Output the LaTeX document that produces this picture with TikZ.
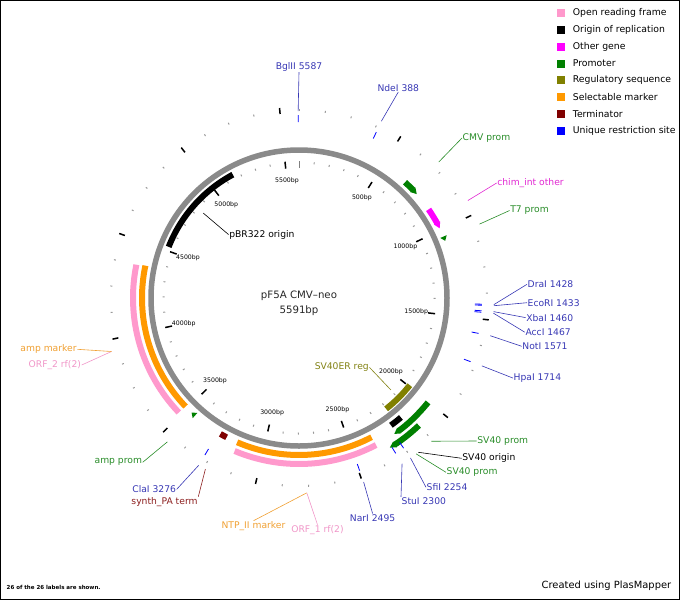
\documentclass[tikz,border=0pt]{standalone}
\usepackage{fontspec}
\setmainfont{DejaVu Sans}
\usetikzlibrary{arrows.meta}

% feature colours
\definecolor{orfcol}{RGB}{255,153,204}
\definecolor{genecol}{RGB}{255,0,255}
\definecolor{promcol}{RGB}{0,128,0}
\definecolor{regcol}{RGB}{128,128,0}
\definecolor{markcol}{RGB}{255,153,0}
\definecolor{termcol}{RGB}{128,0,0}
\definecolor{sitecol}{RGB}{0,0,255}
\definecolor{ringcol}{RGB}{138,138,138}
% label colours
\definecolor{sitetxt}{RGB}{55,55,180}
\definecolor{promtxt}{RGB}{40,140,40}
\definecolor{genetxt}{RGB}{225,40,210}
\definecolor{marktxt}{RGB}{240,160,50}
\definecolor{orftxt}{RGB}{240,150,200}
\definecolor{regtxt}{RGB}{130,130,20}
\definecolor{termtxt}{RGB}{140,30,30}

% angle of a base pair position (5591 bp, clockwise from the top)
\newcommand{\bpa}[1]{((#1)/5591*360-90)}
% a feature band from #1 to #2 at radius #3
\newcommand{\plasarc}[4]{\draw[feat,#4] ({\bpa{#1}}:#3) arc[start angle=\bpa{#1}, end angle=\bpa{#2}, radius=#3];}

\tikzset{
  feat/.style={line width=6pt},
  tipped/.style={-{Triangle[length=6pt 0 0,width=6.5pt 0 0]}},
  minortick/.style={line width=1pt, gray!80},
  majortick/.style={line width=1.5pt, black},
  ticklabel/.style={font=\fontsize{6.2}{7}\selectfont, text=black, inner sep=0pt},
  sitemark/.style={line width=0.8pt, sitecol},
  lbl/.style={font=\fontsize{9.2}{11}\selectfont, inner sep=0.5pt},
  conn/.style={line width=0.6pt},
  legbox/.style={minimum size=8pt, inner sep=0pt},
  legtext/.style={font=\fontsize{9.3}{11}\selectfont, anchor=west, inner sep=0pt}
}

\begin{document}
\begin{tikzpicture}[x=1pt,y=-1pt]
  \useasboundingbox (0,0) rectangle (680,600);

  % Draw the frame
  \draw[line width=1pt] (0.5,0.5) rectangle (679.5,599.5);

  \begin{scope}[shift={(299,298)}]
    % Draw the backbone
    \draw[ringcol, line width=5.5pt] (0,0) circle[radius=148];

    % Inner scale
    \foreach \p in {0,100,...,5500}
      \draw[minortick] ({\bpa{\p}}:134.5) -- ({\bpa{\p}}:136.5);
    \foreach \p in {500,1000,...,5500}{
      \draw[majortick] ({\bpa{\p}}:130) -- ({\bpa{\p}}:137);
      \node[ticklabel] (in\p) at ({\bpa{\p}}:118) {\p bp};
    }
    \draw[line width=1pt, gray] ({\bpa{0}}:130) -- ({\bpa{0}}:137);

    % Outer scale
    \foreach \p in {0,125,...,5500}
      \draw[minortick] ({\bpa{\p}}:187) -- ({\bpa{\p}}:189);
    \foreach \p in {500,1000,...,5500}
      \draw[majortick] ({\bpa{\p}}:185) -- ({\bpa{\p}}:191);

    % Features inside the backbone
    \plasarc{4526}{5153}{140}{black}
    \plasarc{1991}{2203}{141}{regcol}

    % Features outside the backbone
    \plasarc{660}{755}{157}{promcol, tipped}
    \plasarc{864}{989}{157}{genecol, tipped}
    \fill[promcol] ({\bpa{1040}}:153.5) -- ({\bpa{1040}}:160.5) -- ({\bpa{1066}}:157) -- cycle;
    \plasarc{2167}{2239}{157}{black}
    \plasarc{2003}{2252}{166}{promcol, tipped}
    \plasarc{2124}{2310}{175}{promcol, tipped}
    \plasarc{2368}{3156}{157}{markcol}
    \plasarc{2366}{3150}{166}{orfcol}
    \plasarc{3222}{3262}{157}{termcol}
    \fill[promcol] ({\bpa{3440}}:153.5) -- ({\bpa{3440}}:160.5) -- ({\bpa{3466}}:157) -- cycle;
    \plasarc{3514}{4378}{157}{markcol}
    \plasarc{3516}{4373}{166}{orfcol}

    % Restriction sites
    \foreach \p in {5587,388,1428,1433,1460,1467,1571,1714,2254,2300,2495,3276}
      \draw[sitemark] ({\bpa{\p}}:176) -- ({\bpa{\p}}:183);

    % Connector ends on the map
    \coordinate (bgliiP) at ({\bpa{5587}}:187);
    \coordinate (ndeiP) at ({\bpa{388}}:195);
    \coordinate (cmvP) at ({\bpa{711}}:195);
    \coordinate (chimP) at ({\bpa{932}}:195);
    \coordinate (tsevP) at ({\bpa{1052}}:195);
    \coordinate (draiP) at ({\bpa{1428}}:195);
    \coordinate (ecoriP) at ({\bpa{1433}}:195);
    \coordinate (xbaiP) at ({\bpa{1460}}:195);
    \coordinate (acciP) at ({\bpa{1467}}:195);
    \coordinate (notiP) at ({\bpa{1571}}:195);
    \coordinate (hpaiP) at ({\bpa{1714}}:195);
    \coordinate (svpaP) at ({\bpa{2132}}:195);
    \coordinate (svoriP) at ({\bpa{2210}}:195);
    \coordinate (svpbP) at ({\bpa{2222}}:195);
    \coordinate (sfiiP) at ({\bpa{2254}}:195);
    \coordinate (stuiP) at ({\bpa{2300}}:195);
    \coordinate (nariP) at ({\bpa{2495}}:195);
    \coordinate (neoP) at ({\bpa{2760}}:195);
    \coordinate (synthP) at ({\bpa{3241}}:195);
    \coordinate (claiP) at ({\bpa{3276}}:195);
    \coordinate (amppP) at ({\bpa{3455}}:195);
    \coordinate (ampP) at ({\bpa{3946}}:195);
    \coordinate (svregP) at ({\bpa{2097}}:130);
    \coordinate (pbrP) at ({\bpa{4839}}:128);
  \end{scope}

  % Name of the plasmid
  \node[font=\fontsize{10.2}{12}\selectfont, text=black!85] (title) at (299,295.7) {pF5A CMV–neo};
  \node[font=\fontsize{10.2}{12}\selectfont, text=black!85] (size) at (299,311) {5591bp};

  % Labels
  \node[lbl, text=sitetxt] (bglii) at (299,67) {BglII 5587};
  \node[lbl, text=sitetxt] (ndei) at (398.3,87.7) {NdeI 388};
  \node[lbl, text=promtxt, anchor=west] (cmv) at (462,138) {CMV prom};
  \node[lbl, text=genetxt, anchor=west] (chim) at (496.6,183) {chim\_int other};
  \node[lbl, text=promtxt, anchor=west] (tsev) at (509.6,210.5) {T7 prom};
  \node[lbl, text=sitetxt, anchor=west] (drai) at (527,284.3) {DraI 1428};
  \node[lbl, text=sitetxt, anchor=west] (ecori) at (527,302.7) {EcoRI 1433};
  \node[lbl, text=sitetxt, anchor=west] (xbai) at (525.6,317.6) {XbaI 1460};
  \node[lbl, text=sitetxt, anchor=west] (acci) at (524.8,332.2) {AccI 1467};
  \node[lbl, text=sitetxt, anchor=west] (noti) at (521.7,346.3) {NotI 1571};
  \node[lbl, text=sitetxt, anchor=west] (hpai) at (513,378.1) {HpaI 1714};
  \node[lbl, text=promtxt, anchor=west] (svpa) at (476.7,441) {SV40 prom};
  \node[lbl, text=black, anchor=west] (svori) at (461.7,458.3) {SV40 origin};
  \node[lbl, text=promtxt, anchor=west] (svpb) at (446,472.3) {SV40 prom};
  \node[lbl, text=sitetxt, anchor=west] (sfii) at (426,487.3) {SfiI 2254};
  \node[lbl, text=sitetxt, anchor=west] (stui) at (401,501) {StuI 2300};
  \node[lbl, text=sitetxt] (nari) at (372.6,517.7) {NarI 2495};
  \node[lbl, text=orftxt] (orfa) at (317.5,530) {ORF\_1 rf(2)};
  \node[lbl, text=marktxt] (ntp) at (253.5,526) {NTP\_II marker};
  \node[lbl, text=termtxt, anchor=east] (synth) at (198.3,502) {synth\_PA term};
  \node[lbl, text=sitetxt, anchor=east] (clai) at (176.7,489.3) {ClaI 3276};
  \node[lbl, text=promtxt, anchor=east] (ampp) at (142.7,462.3) {amp prom};
  \node[lbl, text=orftxt, anchor=east] (orfb) at (81.7,365) {ORF\_2 rf(2)};
  \node[lbl, text=marktxt, anchor=east] (amp) at (77.3,349.3) {amp marker};
  \node[lbl, text=regtxt, anchor=east] (svreg) at (369.5,367.4) {SV40ER reg};
  \node[lbl, text=black, anchor=west] (pbr) at (228.6,234.6) {pBR322 origin};

  % Connectors
  \draw[conn, sitetxt] (bgliiP) -- (bglii.south);
  \draw[conn, sitetxt] (ndeiP) -- (ndei.south);
  \draw[conn, promtxt] (cmvP) -- (cmv.west);
  \draw[conn, genetxt] (chimP) -- (chim.west);
  \draw[conn, promtxt] (tsevP) -- (tsev.west);
  \draw[conn, sitetxt] (draiP) -- (drai.west);
  \draw[conn, sitetxt] (ecoriP) -- (ecori.west);
  \draw[conn, sitetxt] (xbaiP) -- (xbai.west);
  \draw[conn, sitetxt] (acciP) -- (acci.west);
  \draw[conn, sitetxt] (notiP) -- (noti.west);
  \draw[conn, sitetxt] (hpaiP) -- (hpai.west);
  \draw[conn, promtxt] (svpaP) -- (svpa.west);
  \draw[conn, black] (svoriP) -- (svori.west);
  \draw[conn, promtxt] (svpbP) -- (svpb.west);
  \draw[conn, sitetxt] (sfiiP) -- (sfii.west);
  \draw[conn, sitetxt] (stuiP) -- (stui.north west);
  \draw[conn, sitetxt] (nariP) -- (nari.north);
  \draw[conn, orftxt] (neoP) -- (orfa.north);
  \draw[conn, marktxt] (neoP) -- (ntp.north);
  \draw[conn, termtxt] (synthP) -- (synth.north east);
  \draw[conn, sitetxt] (claiP) -- (clai.east);
  \draw[conn, promtxt] (amppP) -- (ampp.east);
  \draw[conn, orftxt] (ampP) -- (orfb.east);
  \draw[conn, marktxt] (ampP) -- (amp.east);
  \draw[conn, regtxt] (svregP) -- (svreg.east);
  \draw[conn, black] (pbrP) -- (pbr.west);

  % Legend
  \foreach \c/\t [count=\i] in {orfcol/Open reading frame, black/Origin of replication,
      genecol/Other gene, promcol/Promoter, regcol/Regulatory sequence,
      markcol/Selectable marker, termcol/Terminator, sitecol/Unique restriction site}{
    \node[legbox, fill=\c] (leg\i) at (561,{13.3+16.75*(\i-1)}) {};
    \node[legtext] (legt\i) at (572.7,{13.3+16.75*(\i-1)}) {\t};
  }

  % Footer
  \node[font=\bfseries\fontsize{5.5}{6}\selectfont, anchor=west, inner sep=0pt] (count) at (6.5,587.5) {26 of the 26 labels are shown.};
  \node[font=\fontsize{9.9}{11}\selectfont, anchor=east, inner sep=0pt] (made) at (671.4,585.5) {Created using PlasMapper};
\end{tikzpicture}
\end{document}
